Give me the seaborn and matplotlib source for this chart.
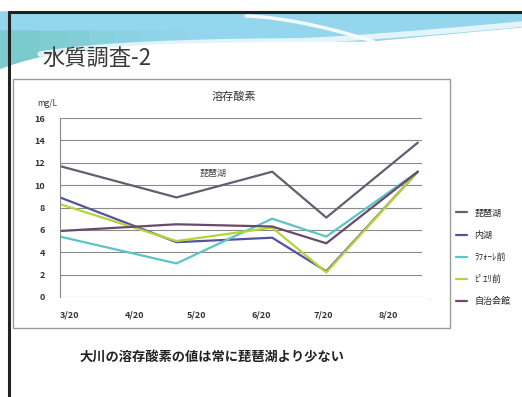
import numpy as np
import pandas as pd
import matplotlib
matplotlib.use("Agg")
import matplotlib.pyplot as plt
import seaborn as sns

sns.set_theme(style="white")
plt.rcParams['font.family'] = ['Noto Sans CJK JP', 'DejaVu Sans']

# Sampling days counted from 3/20
days = [0, 56, 102, 128, 172]
tick_days = [0, 31, 61, 92, 122, 153]
tick_labels = ["3/20", "4/20", "5/20", "6/20", "7/20", "8/20"]

sites = ["琵琶湖", "内湖", "ﾗﾌｫｰﾚ前", "ﾋﾟｴﾘ前", "自治会館"]
biwako = [11.7, 8.9, 11.2, 7.1, 13.8]
naiko = [8.9, 4.9, 5.3, 2.3, 11.2]
laforet = [5.4, 3.0, 7.0, 5.4, 11.2]
pieri = [8.3, 5.0, 6.2, 2.2, 11.2]
jichikai = [5.9, 6.5, 6.3, 4.8, 11.2]
colors = ["#5d6170", "#5553a0", "#5cc4c4", "#b4d43a", "#6a4a6a"]

series = [biwako, naiko, laforet, pieri, jichikai]
df = pd.DataFrame({
    "day": days * len(sites),
    "DO": sum(series, []),
    "site": np.repeat(sites, len(days)),
})

W, H = 522, 397
fig = plt.figure(figsize=(W / 100, H / 100), dpi=100)

# Slide background in pixel coordinates
bg = fig.add_axes([0, 0, 1, 1])
bg.set_xlim(0, W)
bg.set_ylim(H, 0)
bg.axis("off")

# Header wave band
xs = np.linspace(0, W, 300)
edge = 44 + 28 * np.exp(-xs / 70) - 14 * np.clip((xs - 370) / 152, 0, 1)
bg.fill_between(xs, 12, edge, color="#94d6ee", zorder=0)
# teal tint on the left part of the band
for k, a in enumerate(np.linspace(0.55, 0.05, 8)):
    m = xs <= 40 + k * 25
    bg.fill_between(xs[m], 30, edge[m], color="#6fcab8", alpha=a / 3, lw=0, zorder=0)
# white swooshes
bg.plot(xs, edge + 1, color="white", lw=5, zorder=1)
sw = 40 + 22 * np.exp(-xs / 90) - 16 * np.clip((xs - 300) / 222, 0, 1) ** 1.3
bg.plot(xs[xs > 40], sw[xs > 40], color="white", lw=4, alpha=0.75, zorder=1)
m = (xs > 245) & (xs < 375)
bg.plot(xs[m], 16 + 26 * ((xs[m] - 245) / 130) ** 1.6, color="white", lw=2.5, alpha=0.9, zorder=1)

# Slide border
bg.plot([9, 9], [12, H], color="#222222", lw=2.2, zorder=3)
bg.plot([9, W], [12, 12], color="#222222", lw=2.2, zorder=3)

bg.text(42, 58, "水質調査-2", fontsize=16, color="#3a3a3a", va="center", ha="left", zorder=4)

# Chart frame
bg.add_patch(plt.Rectangle((13, 79), 437, 249, facecolor="white", edgecolor="#9a9a9a", lw=1.0, zorder=2))

bg.text(234, 97, "溶存酸素", fontsize=8, color="#333333", ha="center", va="center", zorder=4)
bg.text(47, 104, "mg/L", fontsize=6, color="#333333", ha="center", va="center", zorder=4)
bg.text(213, 173, "琵琶湖", fontsize=6.5, color="#444444", ha="center", va="center", zorder=4)
bg.text(430, 298, ".", fontsize=6, color="#999999", ha="center", va="center", zorder=4)
bg.text(212, 357, "大川の溶存酸素の値は常に琵琶湖より少ない", fontsize=9.5,
        fontweight="bold", color="#222222", ha="center", va="center", zorder=4)

# Plot area
left, right, top, bottom = 60, 422, 118, 297
ax = fig.add_axes([left / W, 1 - bottom / H, (right - left) / W, (bottom - top) / H])
ax.set_facecolor("none")
ax.set_zorder(5)

sns.lineplot(data=df, x="day", y="DO", hue="site", hue_order=sites,
             palette=colors, lw=1.6, ax=ax, legend=False)

ax.set_xlim(0, 174)
ax.set_ylim(0, 16)
ax.set_yticks(range(0, 17, 2))
ax.set_yticklabels([str(v) for v in range(0, 17, 2)], fontsize=6.5,
                   color="#333333", fontweight="bold")
ax.set_xticks(tick_days)
ax.set_xticklabels(tick_labels, fontsize=6.5, color="#333333", fontweight="bold")
ax.tick_params(axis="y", length=3, pad=8, color="#888888")
ax.tick_params(axis="x", length=0, pad=10)
for lbl in ax.get_xticklabels():
    lbl.set_horizontalalignment("left")
ax.set_xlabel("")
ax.set_ylabel("")
ax.grid(axis="y", color="#8a8a8a", lw=0.8)
ax.set_axisbelow(True)
for s in ["top", "right", "bottom"]:
    ax.spines[s].set_visible(False)
ax.spines["left"].set_color("#888888")
ax.spines["left"].set_linewidth(0.8)

# Legend outside the chart frame
handles = [plt.Line2D([0], [0], color=c, lw=1.6) for c in colors]
fig.legend(handles, sites, loc="upper left", bbox_to_anchor=(452 / W, 1 - 205 / H),
           frameon=False, fontsize=6.5, handlelength=1.3, handletextpad=0.8,
           labelspacing=1.45, borderaxespad=0)

fig.savefig("out.png", dpi=100)
